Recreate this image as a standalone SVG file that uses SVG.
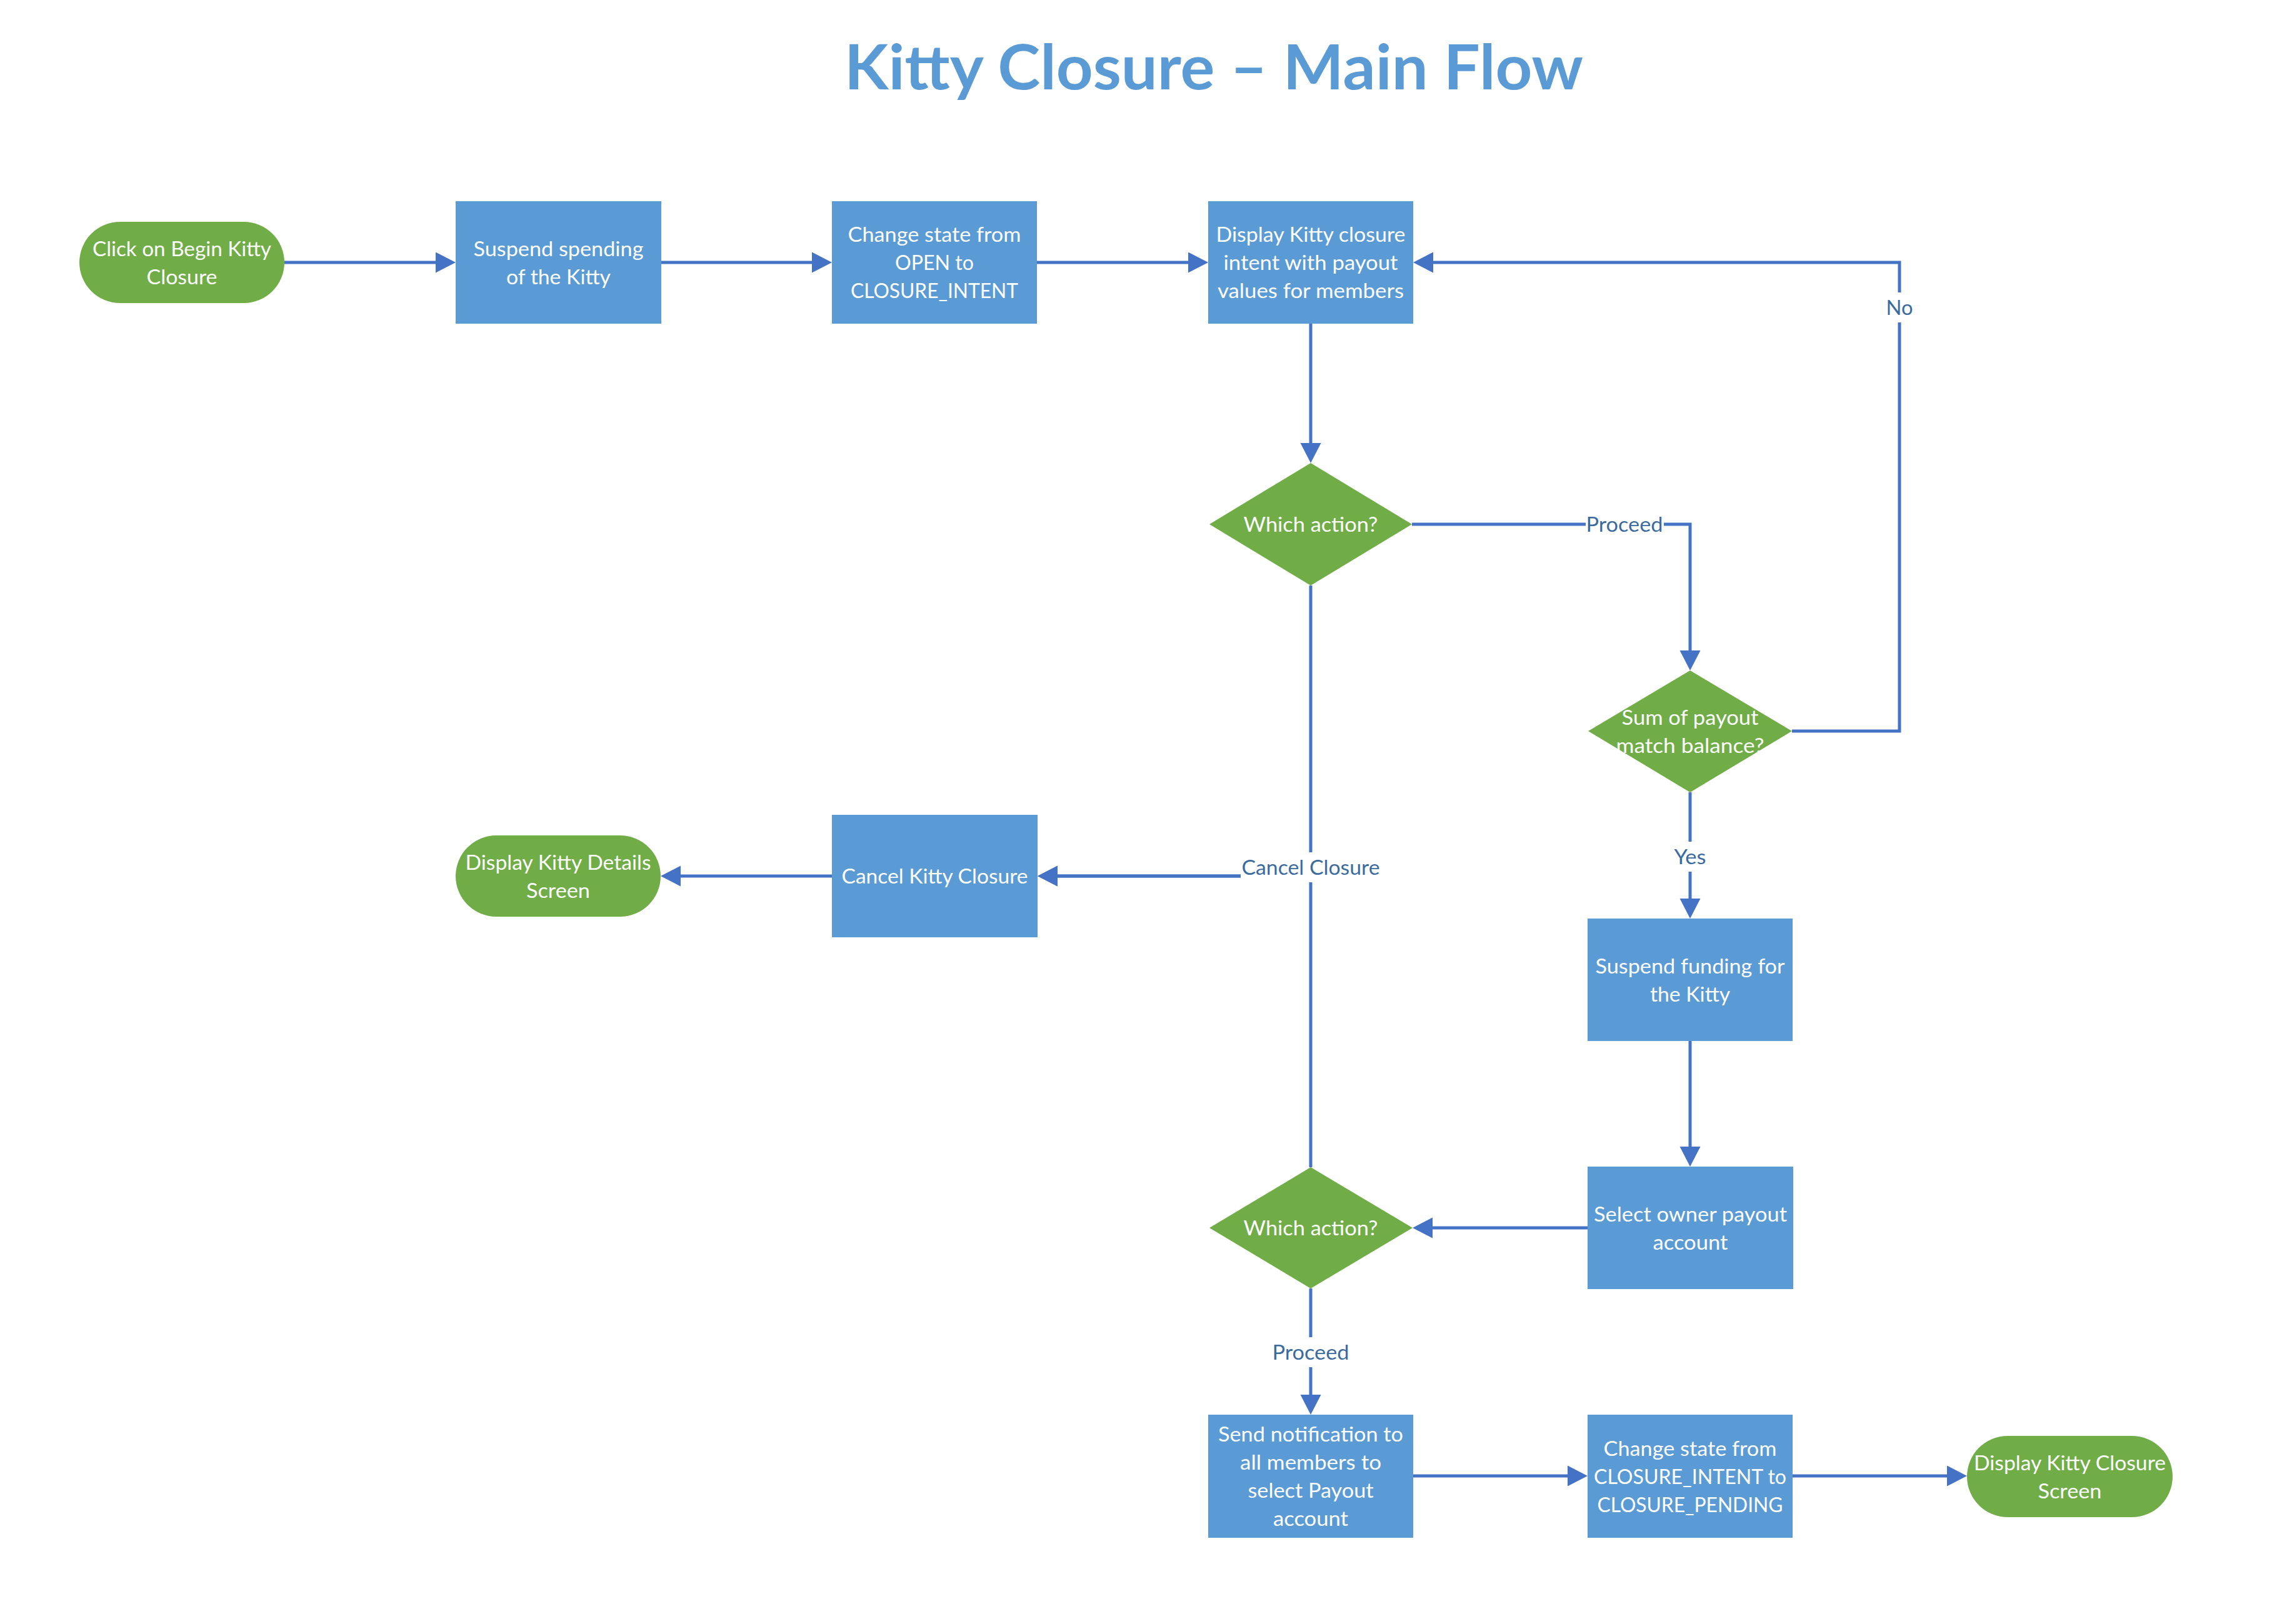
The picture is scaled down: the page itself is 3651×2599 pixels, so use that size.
<svg xmlns="http://www.w3.org/2000/svg" width="3651" height="2599" viewBox="0 0 3651 2599">
<style>
.bg{fill:#ffffff}
.proc{fill:#5B9BD5}
.term{fill:#70AD47}
.dec{fill:#70AD47}
.t{font-family:Lato,"Liberation Sans",sans-serif;font-size:33px;fill:#ffffff;text-anchor:middle}
.lbl{font-family:Lato,"Liberation Sans",sans-serif;font-size:33px;fill:#3A6B9F;text-anchor:middle}
.lblbg{fill:#ffffff}
.title{font-family:Lato,"Liberation Sans",sans-serif;font-size:99px;font-weight:bold;fill:#5B9BD5;text-anchor:middle}
.c{fill:none;stroke:#4472C4;stroke-width:5}
</style>
<defs>
<marker id="ah" markerUnits="userSpaceOnUse" markerWidth="34" markerHeight="34" refX="16" refY="16.5" orient="auto" viewBox="0 0 34 34">
<path d="M0,0 L32,16.5 L0,33 z" fill="#4472C4"/>
</marker>
</defs>
<rect class="bg" x="0" y="0" width="3651" height="2599"/>
<text class="title" x="1942" y="143" textLength="1182" lengthAdjust="spacingAndGlyphs">Kitty Closure – Main Flow</text>

<g id="connectors">
<path class="c" d="M455,420 H713" marker-end="url(#ah)"/>
<path class="c" d="M1058,420 H1315" marker-end="url(#ah)"/>
<path class="c" d="M1659,420 H1917" marker-end="url(#ah)"/>
<path class="c" d="M2097,518 V725" marker-end="url(#ah)"/>
<path class="c" d="M2259,839 H2704 V1057" marker-end="url(#ah)"/>
<path class="c" d="M2867,1170 H3039 V420 H2277" marker-end="url(#ah)"/>
<path class="c" d="M2704,1268 V1454" marker-end="url(#ah)"/>
<path class="c" d="M2704,1666 V1851" marker-end="url(#ah)"/>
<path class="c" d="M2540,1965 H2276" marker-end="url(#ah)"/>
<path class="c" d="M2097,2062 V2248" marker-end="url(#ah)"/>
<path class="c" d="M2097,937 V1402 H1676" marker-end="url(#ah)"/>
<path class="c" d="M2097,1868 V1402 H1676" marker-end="url(#ah)"/>
<path class="c" d="M1331,1402 H1073" marker-end="url(#ah)"/>
<path class="c" d="M2261,2362 H2524" marker-end="url(#ah)"/>
<path class="c" d="M2868,2362 H3131" marker-end="url(#ah)"/>
<g id="labels">
<rect class="lblbg" x="2537" y="815" width="125" height="48"/>
<text class="lbl" x="2599" y="851" textLength="123" lengthAdjust="spacingAndGlyphs">Proceed</text>
<rect class="lblbg" x="3015" y="468" width="48" height="48"/>
<text class="lbl" x="3039" y="504" textLength="43" lengthAdjust="spacingAndGlyphs">No</text>
<rect class="lblbg" x="2677" y="1347" width="54" height="48"/>
<text class="lbl" x="2704" y="1383" textLength="51" lengthAdjust="spacingAndGlyphs">Yes</text>
<rect class="lblbg" x="1985" y="1364" width="224" height="48"/>
<text class="lbl" x="2097" y="1400" textLength="221" lengthAdjust="spacingAndGlyphs">Cancel Closure</text>
<rect class="lblbg" x="2034" y="2140" width="126" height="48"/>
<text class="lbl" x="2097" y="2176" textLength="123" lengthAdjust="spacingAndGlyphs">Proceed</text>
</g>
</g>

<g id="n-start">
<rect class="term" x="127" y="355" width="328" height="130" rx="65" ry="65"/>
<text class="t" x="291" y="409.5" textLength="286" lengthAdjust="spacingAndGlyphs">Click on Begin Kitty</text>
<text class="t" x="291" y="454.5" textLength="113" lengthAdjust="spacingAndGlyphs">Closure</text>
</g>
<g id="n-suspend-spending">
<rect class="proc" x="729" y="322" width="329" height="196"/>
<text class="t" x="893.5" y="409.5" textLength="272" lengthAdjust="spacingAndGlyphs">Suspend spending</text>
<text class="t" x="893.5" y="454.5" textLength="167" lengthAdjust="spacingAndGlyphs">of the Kitty</text>
</g>
<g id="n-change-state-1">
<rect class="proc" x="1331" y="322" width="328" height="196"/>
<text class="t" x="1495" y="387" textLength="277" lengthAdjust="spacingAndGlyphs">Change state from</text>
<text class="t" x="1495" y="432" textLength="126" lengthAdjust="spacingAndGlyphs">OPEN to</text>
<text class="t" x="1495" y="477" textLength="268" lengthAdjust="spacingAndGlyphs">CLOSURE_INTENT</text>
</g>
<g id="n-display-intent">
<rect class="proc" x="1933" y="322" width="328" height="196"/>
<text class="t" x="2097" y="387" textLength="303" lengthAdjust="spacingAndGlyphs">Display Kitty closure</text>
<text class="t" x="2097" y="432" textLength="279" lengthAdjust="spacingAndGlyphs">intent with payout</text>
<text class="t" x="2097" y="477" textLength="298" lengthAdjust="spacingAndGlyphs">values for members</text>
</g>
<g id="n-which-action-1">
<polygon class="dec" points="2097,741 2259,839 2097,937 1935,839"/>
<text class="t" x="2097" y="851" textLength="215" lengthAdjust="spacingAndGlyphs">Which action?</text>
</g>
<g id="n-sum-match">
<polygon class="dec" points="2704,1073 2867,1170 2704,1268 2541,1170"/>
<text class="t" x="2704" y="1159.5" textLength="219" lengthAdjust="spacingAndGlyphs">Sum of payout</text>
<text class="t" x="2704" y="1204.5" textLength="237" lengthAdjust="spacingAndGlyphs">match balance?</text>
</g>
<g id="n-cancel">
<rect class="proc" x="1331" y="1304" width="329" height="196"/>
<text class="t" x="1495.5" y="1414" textLength="298" lengthAdjust="spacingAndGlyphs">Cancel Kitty Closure</text>
</g>
<g id="n-details-screen">
<rect class="term" x="729" y="1337" width="328" height="130" rx="65" ry="65"/>
<text class="t" x="893" y="1391.5" textLength="297" lengthAdjust="spacingAndGlyphs">Display Kitty Details</text>
<text class="t" x="893" y="1436.5" textLength="102" lengthAdjust="spacingAndGlyphs">Screen</text>
</g>
<g id="n-suspend-funding">
<rect class="proc" x="2540" y="1470" width="328" height="196"/>
<text class="t" x="2704" y="1557.5" textLength="303" lengthAdjust="spacingAndGlyphs">Suspend funding for</text>
<text class="t" x="2704" y="1602.5" textLength="128" lengthAdjust="spacingAndGlyphs">the Kitty</text>
</g>
<g id="n-select-owner">
<rect class="proc" x="2540" y="1867" width="329" height="196"/>
<text class="t" x="2704.5" y="1954.5" textLength="309" lengthAdjust="spacingAndGlyphs">Select owner payout</text>
<text class="t" x="2704.5" y="1999.5" textLength="120" lengthAdjust="spacingAndGlyphs">account</text>
</g>
<g id="n-which-action-2">
<polygon class="dec" points="2097,1868 2260,1965 2097,2062 1935,1965"/>
<text class="t" x="2097" y="1977" textLength="215" lengthAdjust="spacingAndGlyphs">Which action?</text>
</g>
<g id="n-send-notification">
<rect class="proc" x="1933" y="2264" width="328" height="197"/>
<text class="t" x="2097" y="2307" textLength="296" lengthAdjust="spacingAndGlyphs">Send notification to</text>
<text class="t" x="2097" y="2352" textLength="226" lengthAdjust="spacingAndGlyphs">all members to</text>
<text class="t" x="2097" y="2397" textLength="201" lengthAdjust="spacingAndGlyphs">select Payout</text>
<text class="t" x="2097" y="2442" textLength="120" lengthAdjust="spacingAndGlyphs">account</text>
</g>
<g id="n-change-state-2">
<rect class="proc" x="2540" y="2264" width="328" height="197"/>
<text class="t" x="2704" y="2329.5" textLength="277" lengthAdjust="spacingAndGlyphs">Change state from</text>
<text class="t" x="2704" y="2374.5" textLength="308" lengthAdjust="spacingAndGlyphs">CLOSURE_INTENT to</text>
<text class="t" x="2704" y="2419.5" textLength="297" lengthAdjust="spacingAndGlyphs">CLOSURE_PENDING</text>
</g>
<g id="n-closure-screen">
<rect class="term" x="3147" y="2298" width="329" height="130" rx="65" ry="65"/>
<text class="t" x="3311.5" y="2352.5" textLength="307" lengthAdjust="spacingAndGlyphs">Display Kitty Closure</text>
<text class="t" x="3311.5" y="2397.5" textLength="102" lengthAdjust="spacingAndGlyphs">Screen</text>
</g>
</svg>
